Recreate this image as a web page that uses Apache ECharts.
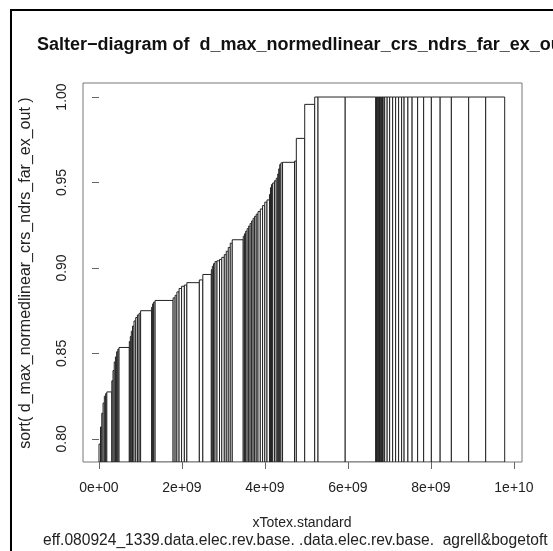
<!DOCTYPE html>
<html>
<head>
<meta charset="utf-8">
<script src="https://cdn.jsdelivr.net/npm/echarts@6/dist/echarts.min.js"></script>
<style>
  html, body { margin: 0; padding: 0; background: #fff; }
  #main { width: 553px; height: 551px; }
</style>
</head>
<body>
<div id="main"></div>
<script>
// sorted efficiency per unit, and its totex (billions)
var effSorted = [
    0.797, 0.807, 0.815, 0.821, 0.825, 0.8265, 0.8275,
    0.834, 0.840, 0.845, 0.848, 0.851, 0.8525, 0.8535,
    0.857, 0.860, 0.863, 0.866, 0.869, 0.871, 0.8725, 0.8735, 0.875,
    0.877, 0.879, 0.880, 0.881,
    0.8825, 0.884, 0.886, 0.888, 0.8893, 0.890, 0.8914, 0.893, 0.8962,
    0.899, 0.901, 0.9025, 0.9037, 0.9042, 0.905, 0.9062, 0.9078, 0.9098, 0.912, 0.9145, 0.9165,
    0.9185, 0.920, 0.9215, 0.923, 0.9245, 0.926, 0.9275, 0.929, 0.9302,
    0.9315, 0.933, 0.9345, 0.9365, 0.9385, 0.9398,
    0.943, 0.947, 0.9488, 0.9497, 0.951, 0.9525, 0.955, 0.958, 0.9605, 0.9615, 0.9618,
    0.9625, 0.9758, 0.9957,
    1, 1, 1,
    1, 1, 1, 1, 1, 1, 1, 1, 1, 1,
    1, 1, 1, 1, 1, 1, 1, 1, 1, 1, 1, 1, 1, 1, 1, 1, 1, 1
];
var totexBn = [
    0.036, 0.031, 0.031, 0.031, 0.031, 0.029, 0.120,
    0.029, 0.029, 0.029, 0.029, 0.029, 0.029, 0.248,
    0.024, 0.024, 0.029, 0.036, 0.041, 0.041, 0.041, 0.036, 0.265,
    0.024, 0.024, 0.036, 0.434,
    0.048, 0.043, 0.053, 0.060, 0.067, 0.060, 0.301, 0.084, 0.205,
    0.024, 0.029, 0.036, 0.048, 0.060, 0.055, 0.060, 0.048, 0.048, 0.048, 0.048, 0.265,
    0.029, 0.029, 0.036, 0.036, 0.036, 0.036, 0.036, 0.036, 0.039,
    0.043, 0.055, 0.055, 0.053, 0.053, 0.060,
    0.024, 0.024, 0.029, 0.043, 0.043, 0.036, 0.024, 0.024, 0.029, 0.039, 0.289,
    0.043, 0.202, 0.241,
    0.080, 0.655, 0.735,
    0.018, 0.018, 0.018, 0.018, 0.018, 0.018, 0.018, 0.018, 0.018, 0.018,
    0.036, 0.060, 0.060, 0.072, 0.072, 0.072, 0.072, 0.060, 0.092, 0.101, 0.133,
    0.145, 0.186, 0.212, 0.270, 0.417, 0.410, 0.458
];
var xTicks = [0, 2e9, 4e9, 6e9, 8e9, 1e10];
var xTickLabels = ['0e+00', '2e+09', '4e+09', '6e+09', '8e+09', '1e+10'];
var yTicks = [0.80, 0.85, 0.90, 0.95, 1.00];
var yTickLabels = ['0.80', '0.85', '0.90', '0.95', '1.00'];

var X_MIN = -0.3855e9, X_MAX = 10.193e9;
var Y_MIN = 0.7865, Y_MAX = 1.0082;

// cumulative x positions: each unit is a rectangle [start, end] x [bottom, eff]
var rects = [];
var cum = 0;
for (var i = 0; i < effSorted.length; i++) {
    var w = totexBn[i] * 1e9;
    rects.push([cum, cum + w, effSorted[i]]);
    cum += w;
}

var myChart = echarts.init(document.getElementById('main'));
var font = 'Liberation Sans, Arial, Helvetica, sans-serif';

var option = {
    backgroundColor: '#fff',
    animation: false,
    title: {
        text: 'Salter\u2212diagram of  d_max_normedlinear_crs_ndrs_far_ex_out',
        left: 32,
        top: 31,
        textStyle: { fontFamily: font, fontSize: 18, fontWeight: 'bold', color: '#111' }
    },
    grid: {
        left: 83, top: 83, right: 31, bottom: 89,
        show: true,
        borderColor: '#777',
        borderWidth: 1,
        backgroundColor: 'transparent'
    },
    xAxis: {
        type: 'value',
        min: X_MIN,
        max: X_MAX,
        axisLine: { show: false },
        splitLine: { show: false },
        axisTick: {
            show: true, inside: false, length: 7,
            customValues: xTicks,
            lineStyle: { color: '#666', width: 1 }
        },
        axisLabel: {
            customValues: xTicks,
            margin: 19,
            fontFamily: font, fontSize: 14, color: '#222',
            formatter: function (v) {
                var k = xTicks.indexOf(v);
                return k >= 0 ? xTickLabels[k] : '';
            }
        }
    },
    yAxis: {
        type: 'value',
        min: Y_MIN,
        max: Y_MAX,
        axisLine: { show: false },
        splitLine: { show: false },
        axisTick: {
            show: true, inside: false, length: 7,
            customValues: yTicks,
            lineStyle: { color: '#666', width: 1 }
        },
        axisLabel: {
            customValues: yTicks,
            rotate: 90,
            margin: 14,
            fontFamily: font, fontSize: 14, color: '#222',
            formatter: function (v) {
                for (var k = 0; k < yTicks.length; k++) {
                    if (Math.abs(yTicks[k] - v) < 1e-9) return yTickLabels[k];
                }
                return '';
            }
        }
    },
    series: [{
        type: 'custom',
        clip: true,
        renderItem: function (params, api) {
            var p0 = api.coord([api.value(0), Y_MIN]);
            var p1 = api.coord([api.value(1), api.value(2)]);
            return {
                type: 'rect',
                shape: { x: p0[0], y: p1[1], width: p1[0] - p0[0], height: p0[1] - p1[1] },
                style: { fill: '#fff', stroke: '#222', lineWidth: 1 }
            };
        },
        encode: { x: [0, 1], y: 2 },
        data: rects
    }],
    graphic: [
        {
            type: 'polyline',
            shape: { points: [[11, 551], [11, 10], [553, 10]] },
            style: { stroke: '#000', lineWidth: 2, fill: null }
        },
        {
            type: 'text', x: 302, y: 523,
            style: { text: 'xTotex.standard', font: '14px ' + font, fill: '#222',
                     textAlign: 'center', textVerticalAlign: 'middle' }
        },
        {
            type: 'text', x: 43, y: 541,
            style: { text: 'eff.080924_1339.data.elec.rev.base. .data.elec.rev.base.  agrell&bogetoft',
                     font: '15.6px ' + font, fill: '#222',
                     textAlign: 'left', textVerticalAlign: 'middle' }
        },
        {
            type: 'text', x: 26, y: 273, rotation: Math.PI / 2,
            style: { text: 'sort( d_max_normedlinear_crs_ndrs_far_ex_out )',
                     font: '16px ' + font, fill: '#222',
                     textAlign: 'center', textVerticalAlign: 'middle' }
        }
    ]
};
myChart.setOption(option);
window.onresize = myChart.resize;
</script>
</body>
</html>
